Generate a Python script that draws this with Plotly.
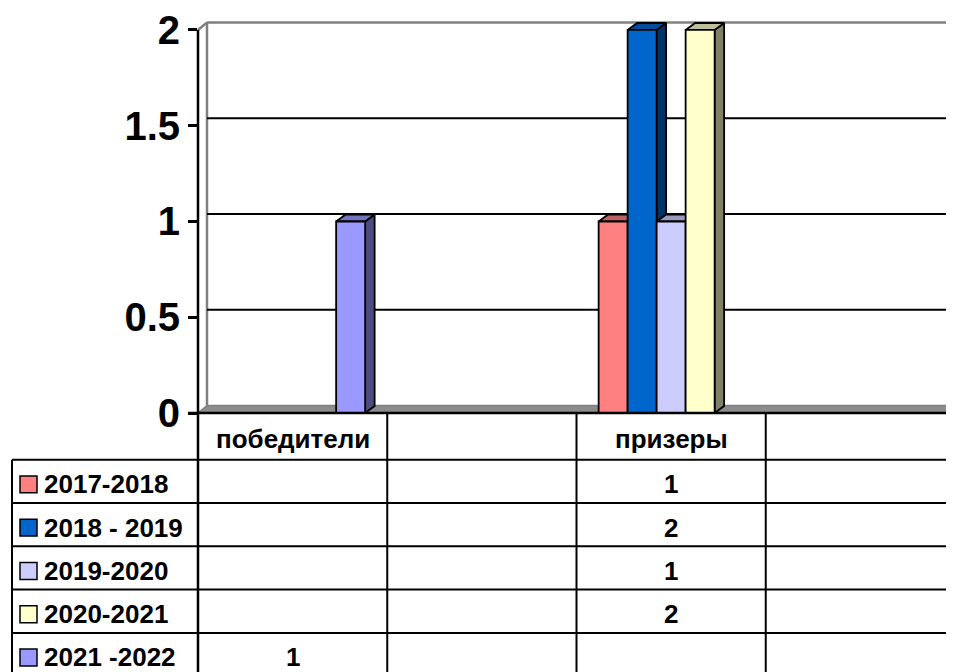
import plotly.graph_objects as go

# ---------------- data ----------------
categories = ["победители", "", "призеры", ""]
series_names = ["2017-2018", "2018 - 2019", "2019-2020", "2020-2021", "2021 -2022"]
v_2017_2018 = [None, None, 1, None]
v_2018_2019 = [None, None, 2, None]
v_2019_2020 = [None, None, 1, None]
v_2020_2021 = [None, None, 2, None]
v_2021_2022 = [1, None, None, None]
y_tick_values = [0, 0.5, 1, 1.5, 2]
y_tick_labels = ["0", "0.5", "1", "1.5", "2"]

series_values = [v_2017_2018, v_2018_2019, v_2019_2020, v_2020_2021, v_2021_2022]
front_colors = [(255, 128, 128), (0, 102, 204), (204, 204, 255), (255, 255, 204), (153, 153, 255)]

# ---------------- geometry (pixels, in window coordinates) ----------------
PM = 8                      # page (body) margin of the html page
WIN_W, WIN_H = 954, 672
W, H = WIN_W - PM, WIN_H - PM
L, R, T, B = 198, 954, 20, 413
PX_PER_CAT = 189.25
PX_PER_UNIT = 192.5
xmin = -0.5
xmax = xmin + (R - L) / PX_PER_CAT
ymax = (B - T) / PX_PER_UNIT
bw = 29 / PX_PER_CAT              # bar width in category units
DX = 9.5 / PX_PER_CAT             # bar depth
DY = 7.0 / PX_PER_UNIT
DXW = 9.0 / PX_PER_CAT            # wall depth
DYW = 7.5 / PX_PER_UNIT
FONT = "Arial, Liberation Sans, sans-serif"


def dpx(x):  # data x -> paper
    return (x - xmin) / (xmax - xmin)


def dpy(y):  # data y -> paper
    return y / ymax


def ppx(p):  # window pixel x -> paper
    return (p - L) / (R - L)


def ppy(p):  # window pixel y -> paper
    return (B - p) / (B - T)


def rgb(c, k=1.0):
    return "rgb(%d,%d,%d)" % tuple(round(v * k) for v in c)


fig = go.Figure()

n = len(series_values)
# side and top faces (drawn underneath the front faces)
for j, (vals, col) in enumerate(zip(series_values, front_colors)):
    for i, v in enumerate(vals):
        if v is None:
            continue
        xc = i + (j - (n - 1) / 2) * bw
        x0, x1 = xc - bw / 2, xc + bw / 2
        fig.add_trace(go.Scatter(
            x=[x1, x1 + DX, x1 + DX, x1, x1], y=[0, DY, v + DY, v, 0],
            mode="lines", fill="toself", fillcolor=rgb(col, 0.5),
            line=dict(color="black", width=1.8), hoverinfo="skip", showlegend=False))
        fig.add_trace(go.Scatter(
            x=[x0, x0 + DX, x1 + DX, x1, x0], y=[v, v + DY, v + DY, v, v],
            mode="lines", fill="toself", fillcolor=rgb(col, 0.75),
            line=dict(color="black", width=1.8), hoverinfo="skip", showlegend=False))

# front faces as real bars on an overlaying axis pair
for j, (name, vals, col) in enumerate(zip(series_names, series_values, front_colors)):
    xs = [i + (j - (n - 1) / 2) * bw for i in range(len(categories))]
    fig.add_trace(go.Bar(
        x=xs, y=vals, width=bw, name=name, xaxis="x2", yaxis="y2",
        marker=dict(color=rgb(col), line=dict(color="black", width=1.8)),
        showlegend=False))

shapes = []
GRAY = "#808080"
# floor
fx0, fx1 = xmin, xmax + 0.1
shapes.append(dict(type="path", xref="paper", yref="paper", layer="below",
                   path="M %f %f L %f %f L %f %f L %f %f Z" % (
                       dpx(fx0), dpy(0), dpx(fx0 + DXW), dpy(DYW),
                       dpx(fx1 + DXW), dpy(DYW), dpx(fx1), dpy(0)),
                   fillcolor="#8c8c8c", line=dict(color=GRAY, width=1.5)))
# back wall edges
wall_top = 2 + DYW
shapes.append(dict(type="line", xref="paper", yref="paper", layer="below",
                   x0=dpx(xmin + DXW), y0=dpy(DYW), x1=dpx(xmin + DXW), y1=dpy(wall_top),
                   line=dict(color=GRAY, width=2.5)))
shapes.append(dict(type="line", xref="paper", yref="paper", layer="below",
                   x0=dpx(xmin + DXW), y0=dpy(wall_top), x1=dpx(xmax + 0.2), y1=dpy(wall_top),
                   line=dict(color=GRAY, width=2.5)))
shapes.append(dict(type="line", xref="paper", yref="paper", layer="below",
                   x0=dpx(xmin), y0=dpy(2), x1=dpx(xmin + DXW), y1=dpy(wall_top),
                   line=dict(color=GRAY, width=2.5)))
# gridlines on the back wall
for v in y_tick_values:
    if 0 < v < 2:
        shapes.append(dict(type="line", xref="paper", yref="paper", layer="below",
                           x0=dpx(xmin + DXW), y0=dpy(v + DYW), x1=dpx(xmax + 0.2), y1=dpy(v + DYW),
                           line=dict(color="black", width=2)))
# value axis line + first table column line
shapes.append(dict(type="line", xref="paper", yref="paper",
                   x0=dpx(xmin), y0=dpy(2), x1=dpx(xmin), y1=ppy(WIN_H + 10),
                   line=dict(color="black", width=2.5)))
# floor front edge / header top
shapes.append(dict(type="line", xref="paper", yref="paper",
                   x0=ppx(L - 10), y0=dpy(0), x1=1.05, y1=dpy(0),
                   line=dict(color="black", width=2.5)))

# ---------------- data table ----------------
HEADER_BOTTOM = 460
ROW_H = 43.5
LEG_LEFT = 12
nrows = len(series_names)
row_tops = [HEADER_BOTTOM + k * ROW_H for k in range(nrows + 1)]
for yt in row_tops[:-1]:
    shapes.append(dict(type="line", xref="paper", yref="paper",
                       x0=ppx(LEG_LEFT), y0=ppy(yt), x1=1.05, y1=ppy(yt),
                       line=dict(color="black", width=2)))
shapes.append(dict(type="line", xref="paper", yref="paper",
                   x0=ppx(LEG_LEFT), y0=ppy(HEADER_BOTTOM), x1=ppx(LEG_LEFT), y1=ppy(WIN_H + 10),
                   line=dict(color="black", width=2)))
for i in range(1, len(categories)):
    xb = i - 0.5
    shapes.append(dict(type="line", xref="paper", yref="paper",
                       x0=dpx(xb), y0=dpy(0), x1=dpx(xb), y1=ppy(WIN_H + 10),
                       line=dict(color="black", width=2)))

annotations = []
TFS = 26
TXT_OFF = 3


def tfont():
    return dict(family=FONT, size=TFS, color="black", weight="bold")


def box_h(k):
    # the last row is cut by the bottom of the picture: use a compact text box there
    return 22 if k == nrows - 1 else None


for i, c in enumerate(categories):
    if c:
        annotations.append(dict(xref="paper", yref="paper", x=dpx(i),
                                y=ppy((B + HEADER_BOTTOM) / 2 + TXT_OFF),
                                text=c, showarrow=False, xanchor="center", yanchor="middle",
                                font=tfont()))
for k, (name, vals, col) in enumerate(zip(series_names, series_values, front_colors)):
    yc = row_tops[k] + ROW_H / 2 + TXT_OFF
    shapes.append(dict(type="rect", xref="paper", yref="paper",
                       x0=ppx(20), x1=ppx(37), y0=ppy(yc - 8.5), y1=ppy(yc + 8.5),
                       fillcolor=rgb(col), line=dict(color="black", width=1.5)))
    annotations.append(dict(xref="paper", yref="paper", x=ppx(42), y=ppy(yc),
                            text=name, showarrow=False, xanchor="left", yanchor="middle",
                            height=box_h(k), font=tfont()))
    for i, v in enumerate(vals):
        if v is not None:
            annotations.append(dict(xref="paper", yref="paper", x=dpx(i), y=ppy(yc),
                                    text="%g" % v, showarrow=False, xanchor="center",
                                    yanchor="middle", height=box_h(k), font=tfont()))

fig.update_layout(
    width=W, height=H,
    margin=dict(l=L - PM, r=WIN_W - R, t=T - PM, b=WIN_H - B, pad=0),
    paper_bgcolor="white", plot_bgcolor="white",
    barmode="overlay", showlegend=False,
    xaxis=dict(range=[xmin, xmax], showgrid=False, zeroline=False, showline=False,
               showticklabels=False, ticks=""),
    yaxis=dict(range=[0, ymax], tickvals=y_tick_values, ticktext=y_tick_labels,
               ticks="outside", ticklen=9, tickwidth=2.5, tickcolor="black",
               showgrid=False, zeroline=False, showline=False, ticklabelstandoff=0,
               ticklabeloverflow="allow",
               tickfont=dict(family=FONT, size=40, color="black", weight="bold")),
    xaxis2=dict(overlaying="x", range=[xmin, xmax], visible=False),
    yaxis2=dict(overlaying="y", range=[0, ymax], visible=False),
    shapes=shapes, annotations=annotations,
)

fig.write_html("out.html")
